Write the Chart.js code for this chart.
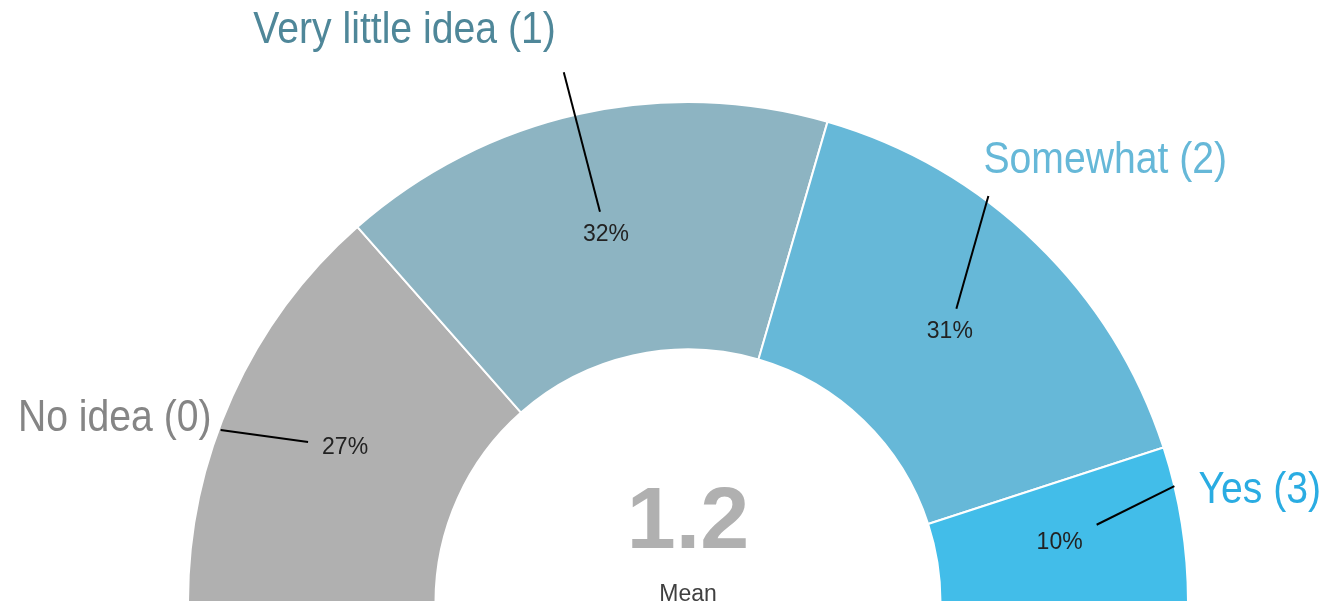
<!DOCTYPE html>
<html>
<head>
<meta charset="utf-8">
<script src="https://cdn.jsdelivr.net/npm/chart.js@4/dist/chart.umd.min.js"></script>
<style>
  html, body { margin: 0; padding: 0; background: #fff; }
  #wrap { position: relative; width: 1337px; height: 603px; }
</style>
</head>
<body>
<div id="wrap"><canvas id="meanGauge"></canvas></div>
<script>
const categories = ["No idea (0)", "Very little idea (1)", "Somewhat (2)", "Yes (3)"];
const scores = [0, 1, 2, 3];
const shares = [27, 32, 31, 10];
const sliceColors = ["#b0b0b0", "#8db4c2", "#66b8d8", "#42bde9"];
const labelColors = ["#858585", "#4f8799", "#66b8d8", "#2aace2"];

// category name placement: leader anchor around the gauge (angle offset from the
// slice middle in degrees, radius as a fraction of the outer radius), then the
// text offset from that anchor
const callouts = [
  { dAngle: -4.1, rFactor: 0.996, dx: -9, dy: 1, align: "right" },
  { dAngle: -0.6, rFactor: 1.088, dx: -8, dy: -29, align: "right" },
  { dAngle: -7.6, rFactor: 1.01, dx: -5, dy: -23, align: "left" },
  { dAngle: -4.4, rFactor: 1.0, dx: 24, dy: 17, align: "left" }
];

const FONT = '"Liberation Sans", Arial, sans-serif';

const total = shares.reduce((s, v) => s + v, 0);
const mean = shares.reduce((s, v, i) => s + v * scores[i], 0) / total;

const gaugeLabels = {
  id: "gaugeLabels",
  afterDatasetsDraw(chart) {
    const ctx = chart.ctx;
    const arcs = chart.getDatasetMeta(0).data;
    ctx.save();
    arcs.forEach((arc, i) => {
      const { x, y, startAngle, endAngle, innerRadius, outerRadius } =
        arc.getProps(["x", "y", "startAngle", "endAngle", "innerRadius", "outerRadius"], true);
      const mid = (startAngle + endAngle) / 2;
      const rMid = (innerRadius + outerRadius) / 2;
      const lx = x + Math.cos(mid) * rMid;
      const ly = y + Math.sin(mid) * rMid;

      // percentage in the middle of the slice
      const pct = shares[i] + "%";
      ctx.font = `23px ${FONT}`;
      ctx.fillStyle = "#222";
      ctx.textAlign = "center";
      ctx.textBaseline = "middle";
      ctx.fillText(pct, lx, ly);
      const halfW = ctx.measureText(pct).width / 2 + 14;
      const halfH = 9 + 14;

      // leader line from the name towards the percentage
      const c = callouts[i];
      const a = mid + c.dAngle * Math.PI / 180;
      const ax = x + Math.cos(a) * outerRadius * c.rFactor;
      const ay = y + Math.sin(a) * outerRadius * c.rFactor;
      const len = Math.hypot(lx - ax, ly - ay);
      const ux = (lx - ax) / len, uy = (ly - ay) / len;
      const stop = Math.min(halfW / Math.max(Math.abs(ux), 1e-6), halfH / Math.max(Math.abs(uy), 1e-6));
      ctx.beginPath();
      ctx.moveTo(ax, ay);
      ctx.lineTo(lx - ux * stop, ly - uy * stop);
      ctx.lineWidth = 2;
      ctx.strokeStyle = "#000";
      ctx.stroke();

      // category name, slightly condensed
      ctx.save();
      ctx.translate(ax + c.dx, ay + c.dy);
      ctx.scale(0.89, 1);
      ctx.font = `44px ${FONT}`;
      ctx.fillStyle = labelColors[i];
      ctx.textAlign = c.align;
      ctx.textBaseline = "alphabetic";
      ctx.fillText(categories[i], 0, 0);
      ctx.restore();
    });

    // mean score in the hole
    const { x, y } = arcs[0];
    ctx.textAlign = "center";
    ctx.textBaseline = "alphabetic";
    ctx.font = `bold 88px ${FONT}`;
    ctx.fillStyle = "#b0b0b0";
    ctx.fillText(mean.toFixed(1), x, y - 54);
    ctx.font = `23px ${FONT}`;
    ctx.fillStyle = "#404040";
    ctx.fillText("Mean", x, y - 1);
    ctx.restore();
  }
};

new Chart(document.getElementById("meanGauge"), {
  type: "doughnut",
  data: {
    labels: categories,
    datasets: [{
      data: shares,
      backgroundColor: sliceColors,
      borderColor: "#fff",
      borderWidth: 2
    }]
  },
  options: {
    responsive: true,
    maintainAspectRatio: false,
    animation: false,
    rotation: -90,
    circumference: 180,
    cutout: "50.5%",
    radius: 500,
    layout: { padding: { left: 188, right: 149, top: 102, bottom: 1 } },
    plugins: {
      legend: { display: false },
      tooltip: { enabled: false }
    }
  },
  plugins: [gaugeLabels]
});
</script>
</body>
</html>
